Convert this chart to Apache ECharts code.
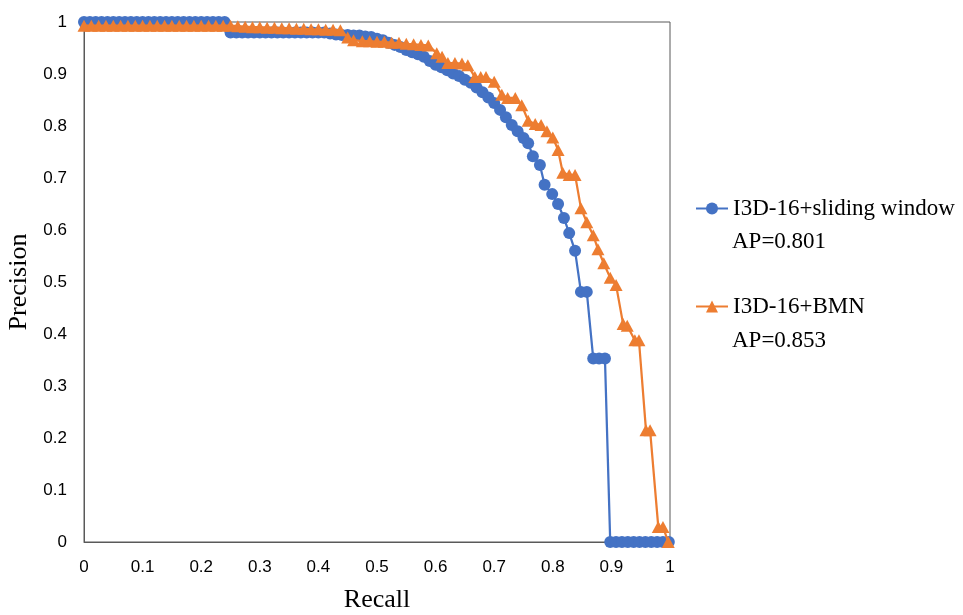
<!DOCTYPE html>
<html>
<head>
<meta charset="utf-8">
<script src="https://cdn.jsdelivr.net/npm/echarts@6/dist/echarts.min.js"></script>
<style>html,body{margin:0;padding:0;background:#fff;}#c{width:963px;height:615px;}</style>
</head>
<body>
<div id="c"></div>
<script>
// ---- data ----
const xTicks = [0,0.1,0.2,0.3,0.4,0.5,0.6,0.7,0.8,0.9,1];
const yTicks = [0,0.1,0.2,0.3,0.4,0.5,0.6,0.7,0.8,0.9,1];
const seriesNames = ['I3D-16+sliding window', 'I3D-16+BMN'];
const apLabels = ['AP=0.801', 'AP=0.853'];

const blueRecall = [
  0,0.01,0.02,0.03,0.04,0.05,0.06,0.07,0.08,0.09,0.10,0.11,0.12,0.13,0.14,0.15,0.16,0.17,0.18,0.19,0.20,0.21,0.22,0.23,0.24,
  0.25,0.26,0.27,0.28,0.29,0.30,0.31,0.32,0.33,0.34,0.35,0.36,0.37,0.38,0.39,0.40,0.41,
  0.42,0.43,0.44,0.45,0.46,0.47,0.48,0.49,0.50,0.51,0.52,0.53,0.54,0.55,0.56,0.57,0.58,0.59,
  0.60,0.61,0.62,0.63,0.64,0.65,0.66,0.67,0.68,0.69,0.70,0.71,0.72,0.73,0.74,0.75,
  0.758,0.766,0.778,0.786,0.799,0.809,0.819,0.828,0.838,0.848,0.858,0.869,0.879,0.889,
  0.898,0.908,0.918,0.928,0.938,0.948,0.958,0.968,0.978,0.988,0.998
];
const bluePrecision = [
  1,1,1,1,1,1,1,1,1,1,1,1,1,1,1,1,1,1,1,1,1,1,1,1,1,
  0.98,0.98,0.98,0.98,0.98,0.98,0.98,0.98,0.98,0.98,0.98,0.98,0.98,0.98,0.98,0.98,0.98,
  0.978,0.976,0.975,0.975,0.974,0.974,0.972,0.971,0.968,0.965,0.96,0.956,0.952,0.946,0.942,0.938,0.933,0.925,
  0.918,0.913,0.907,0.901,0.896,0.889,0.883,0.874,0.865,0.855,0.844,0.831,0.817,0.802,0.79,0.777,
  0.767,0.742,0.725,0.687,0.669,0.65,0.623,0.594,0.56,0.481,0.481,0.353,0.353,0.353,
  0,0,0,0,0,0,0,0,0,0,0
];

const orangeRecall = [
  0,0.0125,0.025,0.0375,0.05,0.0625,0.075,0.0875,0.1,0.1125,0.125,0.1375,0.15,0.1625,0.175,0.1875,0.2,0.2125,0.225,0.2375,0.25,
  0.2625,0.275,0.2875,0.3,0.3125,0.325,0.3375,0.35,0.3625,0.375,0.3875,0.4,0.4125,0.425,0.4375,
  0.45,0.46,0.475,0.4875,0.5,0.5125,0.525,0.5375,0.55,0.5625,0.575,0.5875,
  0.602,0.611,0.621,0.633,0.645,0.655,0.667,0.677,0.686,0.70,0.713,0.723,0.736,0.747,
  0.758,0.77,0.78,0.79,0.80,0.809,0.817,0.828,0.838,0.848,0.858,0.869,0.877,0.887,0.898,0.908,
  0.92,0.927,0.94,0.947,0.959,0.966,0.98,0.988,0.997
];
const orangePrecision = [
  0.993,0.993,0.993,0.993,0.993,0.993,0.993,0.993,0.993,0.993,0.993,0.993,0.993,0.993,0.993,0.993,0.993,0.993,0.993,0.993,0.993,
  0.992,0.991,0.99,0.99,0.989,0.989,0.988,0.988,0.987,0.987,0.986,0.986,0.985,0.985,0.984,
  0.97,0.965,0.963,0.963,0.962,0.962,0.96,0.96,0.958,0.957,0.956,0.955,
  0.94,0.933,0.921,0.921,0.92,0.917,0.894,0.894,0.894,0.885,0.86,0.854,0.854,0.84,
  0.81,0.804,0.802,0.79,0.778,0.754,0.71,0.706,0.706,0.642,0.615,0.59,0.563,0.536,0.508,0.494,
  0.419,0.416,0.388,0.388,0.215,0.215,0.029,0.029,0
];

// ---- chart ----
const pairs = (xs, ys) => xs.map((x, i) => [x, ys[i]]);
const BLUE = '#4472C4', ORANGE = '#ED7D31';
const serif = 'Liberation Serif, Times New Roman, serif';
const sans = 'Liberation Sans, Arial, sans-serif';

const chart = echarts.init(document.getElementById('c'), null, {renderer: 'canvas'});
const legendBase = {orient: 'vertical', left: 695, padding: 0, itemWidth: 32, itemHeight: 15, itemGap: 0,
  textStyle: {fontFamily: serif, fontSize: 23, color: '#000'}};
chart.setOption({
  animation: false,
  backgroundColor: '#fff',
  grid: {left: 84, right: 293, top: 22, bottom: 73, containLabel: false, outerBoundsMode: 'none',
         show: true, borderColor: '#595959', borderWidth: 1, backgroundColor: 'transparent'},
  xAxis: {
    type: 'value', min: xTicks[0], max: xTicks[xTicks.length-1], interval: 0.1,
    name: 'Recall', nameLocation: 'middle', nameGap: 45,
    nameTextStyle: {fontFamily: serif, fontSize: 26, color: '#000'},
    axisLine: {show: true, lineStyle: {color: '#595959', width: 1}},
    axisTick: {show: false}, splitLine: {show: false},
    axisLabel: {margin: 17, color: '#000', fontFamily: sans, fontSize: 17, formatter: v => String(+v.toFixed(1))}
  },
  yAxis: {
    type: 'value', min: yTicks[0], max: yTicks[yTicks.length-1], interval: 0.1,
    name: 'Precision', nameLocation: 'middle', nameGap: 50,
    nameTextStyle: {fontFamily: serif, fontSize: 26, color: '#000'},
    axisLine: {show: true, lineStyle: {color: '#595959', width: 1}},
    axisTick: {show: false}, splitLine: {show: false},
    axisLabel: {margin: 17, color: '#000', fontFamily: sans, fontSize: 17, formatter: v => String(+v.toFixed(1))}
  },
  legend: [
    Object.assign({data: [seriesNames[0]], top: 197}, legendBase),
    Object.assign({data: [seriesNames[1]], top: 295}, legendBase)
  ],
  graphic: [
    {type: 'text', left: 732, top: 230, style: {text: apLabels[0], font: '23px ' + serif, fill: '#000'}},
    {type: 'text', left: 732, top: 329, style: {text: apLabels[1], font: '23px ' + serif, fill: '#000'}}
  ],
  series: [
    {name: seriesNames[0], type: 'line', data: pairs(blueRecall, bluePrecision),
     symbol: 'circle', symbolSize: 12, showAllSymbol: true,
     lineStyle: {color: BLUE, width: 2.25}, itemStyle: {color: BLUE}, z: 2},
    {name: seriesNames[1], type: 'line', data: pairs(orangeRecall, orangePrecision),
     symbol: 'triangle', symbolSize: [13, 12], showAllSymbol: true,
     lineStyle: {color: ORANGE, width: 2.25}, itemStyle: {color: ORANGE}, z: 3}
  ]
});
</script>
</body>
</html>
